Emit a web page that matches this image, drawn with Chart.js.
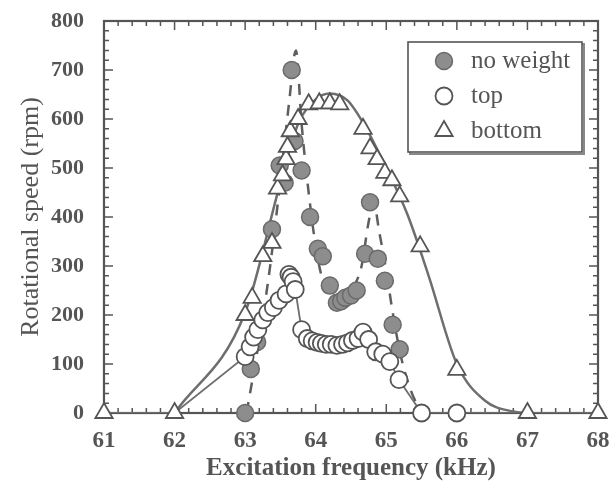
<!DOCTYPE html>
<html lang="en">
<head>
  <meta charset="UTF-8" />
  <title>Rotational speed vs excitation frequency</title>
  <script src="https://cdn.jsdelivr.net/npm/chart.js@4.4.1/dist/chart.umd.min.js"></script>
  <style>
    body { margin: 0; background: #fff; }
  </style>
</head>
<body>
  <canvas id="myChart" width="612" height="490"></canvas>

  <script>
    // values
    const nwFreq  = [63.0, 63.08, 63.17, 63.38, 63.49, 63.56, 63.66, 63.70, 63.80, 63.92, 64.03, 64.10, 64.20, 64.30, 64.36, 64.42, 64.50, 64.58, 64.70, 64.77, 64.88, 64.98, 65.09, 65.19];
    const nwSpeed = [0, 90, 145, 375, 505, 470, 700, 555, 495, 400, 335, 320, 260, 225, 228, 235, 240, 250, 325, 430, 315, 270, 180, 130];

    const topFreq  = [63.0, 63.07, 63.12, 63.18, 63.25, 63.32, 63.40, 63.48, 63.58, 63.62, 63.65, 63.68, 63.71, 63.80, 63.88, 63.95, 64.02, 64.08, 64.15, 64.22, 64.30, 64.38, 64.45, 64.52, 64.60, 64.67, 64.75, 64.85, 64.95, 65.05, 65.18, 65.5, 66.0];
    const topSpeed = [115, 135, 155, 170, 190, 205, 215, 230, 243, 283, 277, 268, 252, 170, 152, 147, 144, 142, 140, 140, 138, 140, 143, 148, 152, 165, 150, 125, 120, 105, 68, 0, 0];

    const botFreq  = [61, 62, 63.0, 63.1, 63.25, 63.38, 63.46, 63.53, 63.58, 63.60, 63.64, 63.75, 63.90, 64.05, 64.20, 64.34, 64.67, 64.77, 64.87, 64.98, 65.08, 65.19, 65.48, 66.0, 67, 68];
    const botSpeed = [0, 0, 200, 235, 320, 347, 458, 485, 518, 543, 575, 600, 630, 632, 632, 630, 580, 540, 518, 490, 475, 442, 340, 88, 0, 0];

    // solid curve through the "bottom" points (62 to 67 kHz)
    const fitFreq  = [62, 63, 63.5, 63.75, 64, 64.2, 64.45, 64.7, 65, 65.3, 65.6, 66, 66.4, 66.8, 67];
    const fitSpeed = [0, 205, 470, 590, 640, 652, 638, 585, 500, 405, 280, 100, 25, 3, 0];

    // thin line joining the "top" points, with its baseline run
    const topLineFreq  = [61, 62].concat(topFreq, [67, 68]);
    const topLineSpeed = [0, 0].concat(topSpeed, [0, 0]);

    // dashed guide for "no weight"
    const guideFreq  = [63.02, 63.2, 63.35, 63.5, 63.62, 63.72, 63.8, 63.9, 64.0, 64.1, 64.25, 64.4, 64.55, 64.65, 64.75, 64.82, 64.9, 65.0, 65.08, 65.2, 65.35, 65.5];
    const guideSpeed = [0, 150, 295, 475, 630, 740, 590, 450, 340, 270, 220, 215, 260, 300, 390, 430, 370, 290, 215, 120, 45, 0];

    const xTicks = [61, 62, 63, 64, 65, 66, 67, 68];
    const yTicks = [0, 100, 200, 300, 400, 500, 600, 700, 800];
    const legendLabels = ['no weight', 'top', 'bottom'];

    const ink = '#555';
    const serif = "'Liberation Serif', 'Times New Roman', serif";

    function pts(xs, ys) {
      return xs.map((x, i) => ({ x: x, y: ys[i] }));
    }

    const markerStyles = [
      { pointStyle: 'circle', radius: 8.5, backgroundColor: '#8d8d8d', borderColor: '#6a6a6a', borderWidth: 1.5 },
      { pointStyle: 'circle', radius: 8.5, backgroundColor: '#fff', borderColor: ink, borderWidth: 1.8 },
      { pointStyle: 'triangle', radius: 10, backgroundColor: '#fff', borderColor: ink, borderWidth: 1.8 }
    ];

    // drop the extra room Chart.js keeps for edge labels, so the plot box sits where the padding says
    function noEdgePadding(s) {
      s.paddingTop = 0; s.paddingBottom = 0; s.paddingLeft = 0; s.paddingRight = 0;
    }

    // frame with inward ticks on all four sides, plus the boxed legend
    const framePlugin = {
      id: 'frame',
      beforeDatasetsDraw(chart) {
        const { ctx, chartArea: a, scales: { x, y } } = chart;
        ctx.save();
        ctx.strokeStyle = ink;
        ctx.lineWidth = 1.5;
        for (let v = 61; v <= 68.001; v += 0.2) {
          const px = x.getPixelForValue(v);
          const len = Math.abs(v - Math.round(v)) < 0.01 ? 9 : 5;
          ctx.beginPath();
          ctx.moveTo(px, a.bottom); ctx.lineTo(px, a.bottom - len);
          ctx.moveTo(px, a.top); ctx.lineTo(px, a.top + len);
          ctx.stroke();
        }
        for (let v = 0; v <= 800; v += 20) {
          const py = y.getPixelForValue(v);
          const len = v % 100 === 0 ? 9 : 5;
          ctx.beginPath();
          ctx.moveTo(a.left, py); ctx.lineTo(a.left + len, py);
          ctx.moveTo(a.right, py); ctx.lineTo(a.right - len, py);
          ctx.stroke();
        }
        ctx.lineWidth = 2.2;
        ctx.strokeRect(a.left, a.top, a.right - a.left, a.bottom - a.top);
        ctx.restore();
      },
      afterDraw(chart) {
        const { ctx, chartArea: a } = chart;
        const bx = a.right - 190, by = a.top + 21, bw = 174, bh = 110;
        ctx.save();
        ctx.strokeStyle = '#888';
        ctx.lineWidth = 2;
        ctx.strokeRect(bx + 2, by + 2, bw, bh);
        ctx.fillStyle = '#fff';
        ctx.fillRect(bx, by, bw, bh);
        ctx.strokeStyle = ink;
        ctx.lineWidth = 1.6;
        ctx.strokeRect(bx, by, bw, bh);
        legendLabels.forEach((label, i) => {
          const cy = by + 19 + i * 35;
          const s = markerStyles[i];
          ctx.fillStyle = s.backgroundColor;
          ctx.strokeStyle = s.borderColor;
          ctx.lineWidth = s.borderWidth;
          Chart.helpers.drawPoint(ctx, { pointStyle: s.pointStyle, radius: s.radius, borderWidth: s.borderWidth, rotation: 0 }, bx + 36, cy);
          ctx.fillStyle = ink;
          ctx.font = '25px ' + serif;
          ctx.textBaseline = 'middle';
          ctx.textAlign = 'left';
          ctx.fillText(label, bx + 63, cy);
        });
        ctx.restore();
      }
    };

    function markerSet(label, xs, ys, style, order) {
      return {
        label: label,
        data: pts(xs, ys),
        showLine: false,
        clip: false,
        pointStyle: style.pointStyle,
        pointRadius: style.radius,
        pointBackgroundColor: style.backgroundColor,
        pointBorderColor: style.borderColor,
        pointBorderWidth: style.borderWidth,
        order: order
      };
    }

    const ctx = document.getElementById('myChart').getContext('2d');
    const myChart = new Chart(ctx, {
      type: 'scatter',
      data: {
        datasets: [
          markerSet('bottom', botFreq, botSpeed, markerStyles[2], 1),
          markerSet('top', topFreq, topSpeed, markerStyles[1], 2),
          markerSet('no weight', nwFreq, nwSpeed, markerStyles[0], 3),
          {
            label: 'fit',
            data: pts(fitFreq, fitSpeed),
            showLine: true,
            pointRadius: 0,
            borderColor: '#6e6e6e',
            borderWidth: 2.5,
            cubicInterpolationMode: 'monotone',
            order: 4
          },
          {
            label: 'top line',
            data: pts(topLineFreq, topLineSpeed),
            showLine: true,
            pointRadius: 0,
            borderColor: '#6e6e6e',
            borderWidth: 1.8,
            order: 5
          },
          {
            label: 'guide',
            data: pts(guideFreq, guideSpeed),
            showLine: true,
            pointRadius: 0,
            borderColor: '#5e5e5e',
            borderWidth: 2.5,
            borderDash: [11, 9],
            cubicInterpolationMode: 'monotone',
            order: 6
          }
        ]
      },
      options: {
        responsive: false,
        animation: false,
        layout: { padding: { top: 21, right: 14, left: 0, bottom: 0 } },
        plugins: {
          legend: { display: false },
          tooltip: { enabled: false }
        },
        scales: {
          x: {
            type: 'linear',
            min: 61,
            max: 68,
            afterBuildTicks: s => { s.ticks = xTicks.map(v => ({ value: v })); },
            afterFit: s => { s.height = 77; noEdgePadding(s); },
            grid: { display: false, drawTicks: false },
            border: { display: false },
            ticks: { color: ink, padding: 14, font: { family: serif, size: 23, weight: 'bold' } },
            title: {
              display: true,
              text: 'Excitation frequency (kHz)',
              color: ink,
              padding: { top: 0, bottom: 6 },
              font: { family: serif, size: 25, weight: 'bold' }
            }
          },
          y: {
            type: 'linear',
            min: 0,
            max: 800,
            afterBuildTicks: s => { s.ticks = yTicks.map(v => ({ value: v })); },
            afterFit: s => { s.width = 104; noEdgePadding(s); },
            grid: { display: false, drawTicks: false },
            border: { display: false },
            ticks: { color: ink, padding: 20, font: { family: serif, size: 22, weight: 'bold' } },
            title: {
              display: true,
              text: 'Rotational speed (rpm)',
              color: ink,
              padding: { top: 16, bottom: 0 },
              font: { family: serif, size: 26 }
            }
          }
        }
      },
      plugins: [framePlugin]
    });
  </script>
</body>
</html>
